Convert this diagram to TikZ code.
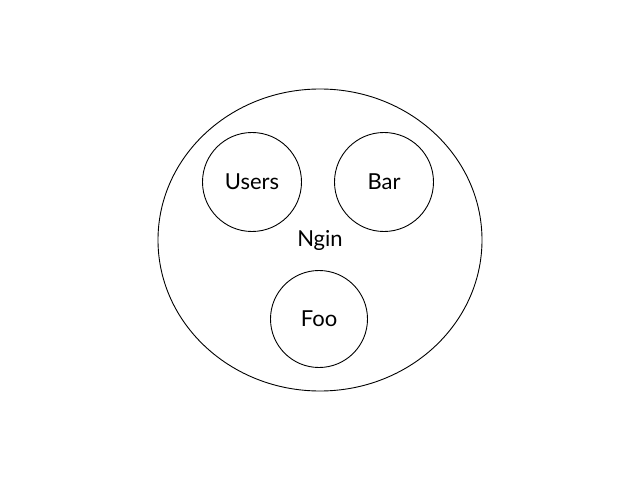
\documentclass[tikz,border=0pt]{standalone}
\usepackage{fontspec}
\setmainfont{Lato}
\usetikzlibrary{shapes.geometric}

\begin{document}
\begin{tikzpicture}[x=1pt, y=1pt, font=\fontsize{22}{26}\selectfont]
    \useasboundingbox (0, 0) rectangle (640, 480);

    % 外側の楕円
    \node[ellipse, draw, line width=0.9pt, minimum width=324pt, minimum height=302pt, inner sep=0pt] (ngin) at (320, 240) {Ngin};

    % 内側のノード
    \node[circle, draw, line width=0.9pt, minimum size=99pt, inner sep=0pt] (users) at (252, 298) {Users};
    \node[circle, draw, line width=0.9pt, minimum size=99pt, inner sep=0pt] (bar) at (384, 298) {Bar};
    \node[circle, draw, line width=0.9pt, minimum size=97pt, inner sep=0pt] (foo) at (319, 161) {Foo};
\end{tikzpicture}
\end{document}
